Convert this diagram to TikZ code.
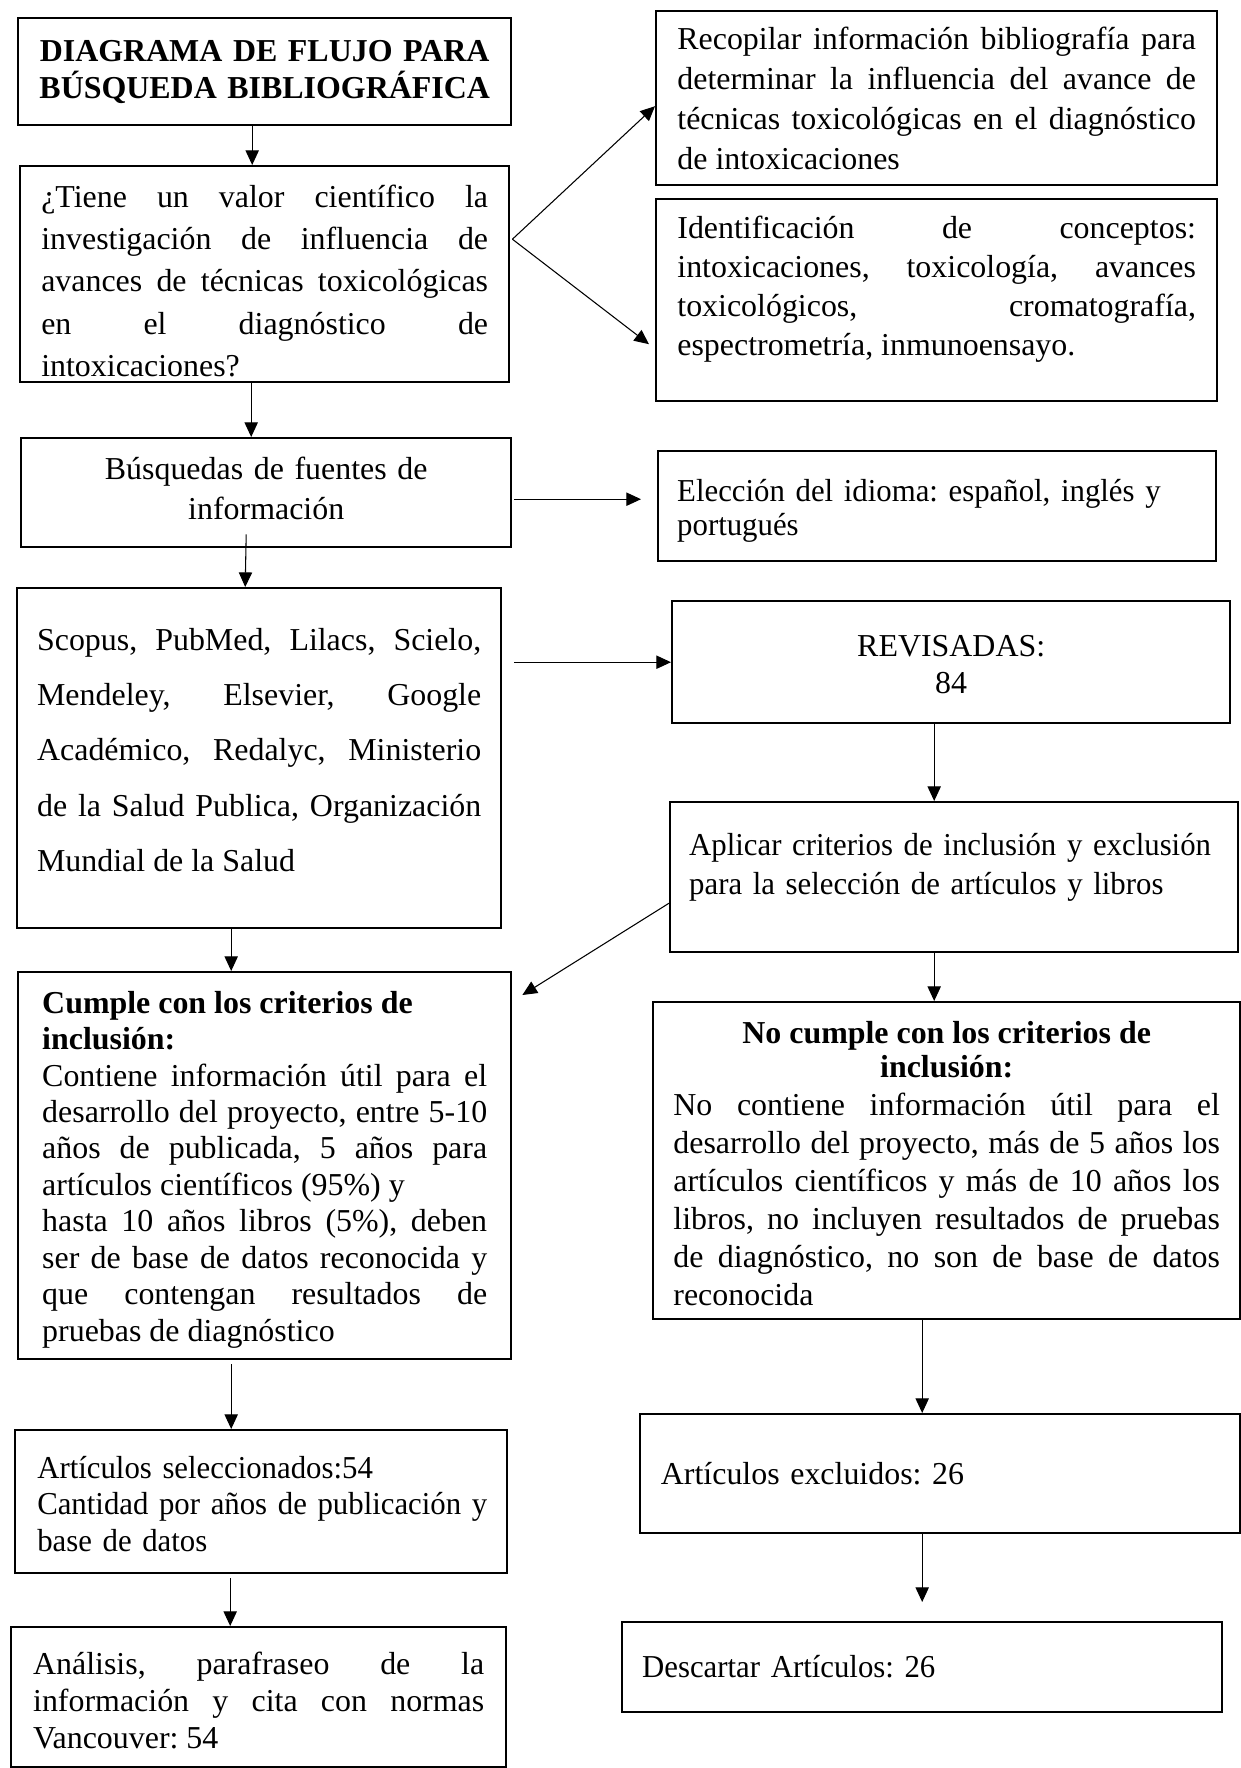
\documentclass[tikz,border=0pt]{standalone}
\usepackage{fontspec}
\setmainfont{Liberation Serif}
\newfontfamily\narrowfont[FakeStretch=0.965]{Liberation Serif}
\usepackage{tikz}
\usetikzlibrary{arrows.meta}
\newdimen\pxu
\pxu=0.376pt
\frenchspacing
\hyphenpenalty=10000
\exhyphenpenalty=10000
\tolerance=10000
\hbadness=10000
\hfuzz=3pt
\lineskiplimit=-20pt

\begin{document}
\begin{tikzpicture}[
        x=0.376pt, y=-0.376pt,
        cell/.style={
            draw,
            line width=0.9pt,
            inner xsep=2pt,
            inner ysep=0pt,
            anchor=north west,
            align=justify,
            font=\fontsize{12}{13.8}\selectfont
        },
        % ancho, alto, primera linea base (px)
        boxsize/.style n args={3}{minimum width=#1*\pxu, minimum height=#2*\pxu,
                                  text height=#3*\pxu, text depth=(#2-#3)*\pxu},
        pitch/.style={font=\fontsize{12}{#1}\selectfont},
        narrow/.style={font=\narrowfont\fontsize{12}{#1}\selectfont},
        arr/.style={-{Triangle[length=5.5pt,width=5pt]}, line width=0.4pt}
    ]
        \path[use as bounding box, fill=white] (0,0) rectangle (1241,1768);

        % columna izquierda
        \node[cell, boxsize={493}{107}{43}, align=center, text width=175pt,
              font=\bfseries\fontsize{12}{14.2}\selectfont] (title) at (17,17)
              {DIAGRAMA DE FLUJO PARA\\ BÚSQUEDA BIBLIOGRÁFICA};
        \node[cell, boxsize={489}{216}{41}, pitch=15.9, text width=168pt] (quest) at (19,165)
              {¿Tiene un valor científico la\linebreak investigación de influencia de\linebreak
               avances de técnicas toxicológicas\linebreak en el diagnóstico de\linebreak intoxicaciones?};
        \node[cell, boxsize={490}{109}{41}, pitch=15, align=center, text width=170pt] (busq) at (20,437)
              {Búsquedas de fuentes de\\ información};
        \node[cell, boxsize={484}{340}{62}, pitch=20.8, text width=167pt] (scopus) at (16,587)
              {Scopus, PubMed, Lilacs, Scielo,\linebreak Mendeley, Elsevier, Google\linebreak
               Académico, Redalyc, Ministerio\linebreak de la Salud Publica, Organización\linebreak
               Mundial de la Salud};
        \node[cell, boxsize={493}{387}{41}, pitch=13.7, text width=167.3pt] (cumple) at (17,971)
              {\textbf{Cumple con los criterios de}\\ \textbf{inclusión:}\\
               Contiene información útil para el\linebreak desarrollo del proyecto, entre 5-10\linebreak
               años de publicada, 5 años para\linebreak artículos científicos (95\%) y\\
               hasta 10 años libros (5\%), deben\linebreak ser de base de datos reconocida y\linebreak
               que contengan resultados de\linebreak pruebas de diagnóstico};
        \node[cell, boxsize={492}{143}{48}, narrow=13.7, align=left, text width=168.4pt] (artsel) at (14,1429)
              {Artículos seleccionados:54\\ \mbox{Cantidad por años de publicación y}\\ base de datos};
        \node[cell, boxsize={495}{140}{47}, pitch=13.9, text width=169.6pt] (analisis) at (10,1626)
              {Análisis, parafraseo de la\linebreak información y cita con normas\linebreak Vancouver: 54};

        % columna derecha
        \node[cell, boxsize={561}{174}{38}, pitch=15.1, text width=195pt] (recop) at (655,10)
              {Recopilar información bibliografía para\linebreak determinar la influencia del avance de\linebreak
               técnicas toxicológicas en el diagnóstico\linebreak de intoxicaciones};
        \node[cell, boxsize={561}{202}{39}, pitch=14.65, text width=195pt] (ident) at (655,198)
              {Identificación de conceptos:\linebreak intoxicaciones, toxicología, avances\linebreak
               toxicológicos, cromatografía,\linebreak espectrometría, inmunoensayo.};
        \node[cell, boxsize={558}{110}{50}, narrow=12.8, align=left, text width=195.5pt] (elec) at (657,450)
              {\mbox{Elección del idioma: español, inglés y}\\ portugués};
        \node[cell, boxsize={558}{122}{55}, pitch=13.9, align=center, text width=190pt] (revis) at (671,600)
              {REVISADAS:\\ 84};
        \node[cell, boxsize={568}{150}{53}, narrow=14.7, align=left, text width=199.3pt] (aplic) at (669,801)
              {\mbox{Aplicar criterios de inclusión y exclusión}\\ para la selección de artículos y libros};
        \node[cell, boxsize={587}{317}{41}, pitch=14.3, text width=205.5pt] (nocum) at (652,1001)
              {{\centering\bfseries\fontsize{12}{12.9}\selectfont No cumple con los criterios de\\ inclusión:\par}
               No contiene información útil para el\linebreak desarrollo del proyecto, más de 5 años los\linebreak
               artículos científicos y más de 10 años los\linebreak libros, no incluyen resultados de pruebas\linebreak
               de diagnóstico, no son de base de datos\linebreak reconocida};
        \node[cell, boxsize={600}{119}{70}, align=left, text width=210pt] (excl) at (639,1413)
              {Artículos excluidos: 26};
        \node[cell, boxsize={600}{90}{55}, narrow=13.8, align=left, text width=210.6pt] (desc) at (621,1621)
              {Descartar Artículos: 26};

        % flechas
        \coordinate (fork) at ([shift={(2,-35)}]quest.east);
        \draw[arr] (fork) -- ([shift={(0,8)}]recop.west);
        \draw[arr] (fork) -- ([shift={(-6,44)}]ident.west);
        \draw[arr] ([shift={(-12.5,0)}]title.south) -- ([shift={(-12.5,0)}]quest.north);
        \draw[arr] ([shift={(-13.5,0)}]quest.south) -- ([shift={(-15,0)}]busq.north);
        \draw[arr] ([shift={(-20,-14)}]busq.south) -- ([shift={(-14,0)}]scopus.north);
        \draw[arr] ([shift={(2,6.5)}]busq.east) -- ([shift={(-16,-7)}]elec.west);
        \draw[arr] ([shift={(12,-96)}]scopus.east) -- (revis.west);
        \draw[arr] ([shift={(-17,0)}]revis.south) -- ([shift={(-20,0)}]aplic.north);
        \draw[arr] ([shift={(0,26)}]aplic.west) -- ([shift={(10,24)}]cumple.north east);
        \draw[arr] ([shift={(-28,0)}]scopus.south) -- ([shift={(-33.5,0)}]cumple.north);
        \draw[arr] ([shift={(-20,0)}]aplic.south) -- ([shift={(-12.5,0)}]nocum.north);
        \draw[arr] ([shift={(-33.5,4)}]cumple.south) -- ([shift={(-30,0)}]artsel.north);
        \draw[arr] ([shift={(-24.5,0)}]nocum.south) -- ([shift={(-18,0)}]excl.north);
        \draw[arr] ([shift={(-31,4)}]artsel.south) -- ([shift={(-28.5,0)}]analisis.north);
        \draw[arr] ([shift={(-18,0)}]excl.south) -- ([shift={(0,-19)}]desc.north);
    \end{tikzpicture}
\end{document}
